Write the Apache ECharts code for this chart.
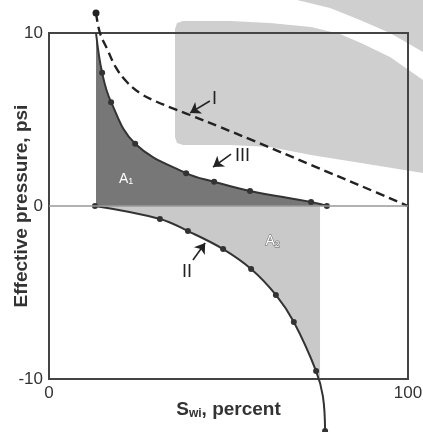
<!DOCTYPE html>
<html>
<head>
<meta charset="utf-8">
<script src="https://cdn.jsdelivr.net/npm/echarts@6/dist/echarts.min.js"></script>
<style>
  html, body { margin: 0; padding: 0; background: #fff; }
  #chart { width: 423px; height: 432px; }
</style>
</head>
<body>
<div id="chart"></div>
<script>
// curve III (solid, upper) - bounds area A1
const curve3X = [13.1, 14.8, 17.3, 24.0, 38.2, 46.0, 56.0, 73.0, 77.4]
const curve3Y = [10, 7.7, 6.0, 3.6, 1.9, 1.4, 0.87, 0.23, 0]

// curve I (dashed)
const curve1X = [13.1, 14.2, 16.2, 18.7, 21.7, 25.3, 29.5, 34.3, 39.3, 47.6, 57.1, 73.0, 86.9, 100]
const curve1Y = [11.16, 10.0, 9.08, 7.98, 7.17, 6.53, 6.07, 5.66, 5.26, 4.57, 3.76, 2.37, 1.16, 0]

// curve II (solid, lower) - bounds area A2
const curve2X = [12.8, 30.9, 38.7, 48.5, 56.3, 63.2, 68.2, 74.4, 76.3, 76.9]
const curve2Y = [0, -0.75, -1.45, -2.49, -3.64, -5.14, -6.71, -9.54, -11.0, -13.0]

// A2 shading stops at this saturation
const a2Edge = 75.5
const a2EdgeY = -10.0

const xTicks = [0, 100]
const yTicks = [-10, 0, 10]

function pairs(xs, ys, noDot) {
  return xs.map((x, i) => {
    const item = { value: [x, ys[i]] }
    if (noDot.includes(i)) item.symbol = 'none'
    return item
  })
}

const a2X = curve2X.filter(x => x <= a2Edge).concat([a2Edge])
const a2Y = curve2Y.slice(0, a2X.length - 1).concat([a2EdgeY])

const chart = echarts.init(document.getElementById('chart'), null, { renderer: 'canvas' })

const font = 'Arial, "Liberation Sans", sans-serif'
const ink = '#333'
const smooth = 0.4

// watermark shapes behind the plot
const wmMain = [[183, 21], [230, 21], [270, 23], [311, 27], [340, 34], [361, 43], [390, 57], [423, 80],
  [423, 173], [361, 163], [311, 155], [270, 147], [230, 145], [183, 145], [177, 143], [175, 137],
  [175, 29], [177, 23]]
const wmTop = [[297, 0], [330, 8], [360, 20], [390, 33], [423, 52], [423, 0]]

const option = {
  animation: false,
  grid: {
    left: 49, right: 15, top: 33, bottom: 53,
    containLabel: false,
    outerBoundsMode: 'none',
    show: true,
    borderColor: '#444',
    borderWidth: 2,
    backgroundColor: 'transparent'
  },
  xAxis: {
    type: 'value',
    min: xTicks[0], max: xTicks[xTicks.length - 1], interval: 100,
    axisLine: { show: false },
    axisTick: { show: false },
    splitLine: { show: false },
    axisLabel: { color: ink, fontSize: 17, fontFamily: font, margin: 6 },
    name: '{s|S}{sub|wi}{s|, percent}',
    nameLocation: 'middle',
    nameGap: 20,
    nameMoveOverlap: false,
    nameTextStyle: {
      rich: {
        s: { fontSize: 19, fontWeight: 'bold', color: ink, fontFamily: font },
        sub: { fontSize: 12, fontWeight: 'bold', color: ink, fontFamily: font, padding: [9, 0, 0, 0] }
      }
    }
  },
  yAxis: {
    type: 'value',
    min: yTicks[0], max: yTicks[yTicks.length - 1], interval: 10,
    axisLine: { show: false },
    axisTick: { show: false },
    splitLine: { show: false },
    axisLabel: { color: ink, fontSize: 17, fontFamily: font, margin: 6 },
    name: 'Effective pressure, psi',
    nameLocation: 'middle',
    nameGap: 18,
    nameMoveOverlap: false,
    nameTextStyle: { fontSize: 19, fontWeight: 'bold', color: ink, fontFamily: font }
  },
  graphic: {
    elements: [
      { type: 'polygon', z: -10, silent: true, shape: { points: wmMain }, style: { fill: '#cfcfcf' } },
      { type: 'polygon', z: -10, silent: true, shape: { points: wmTop }, style: { fill: '#cfcfcf' } },
      { type: 'text', z: 100, left: 119, top: 172, style: { text: '{a|A}{b|1}', fill: '#fff',
        rich: { a: { fontSize: 14, fill: '#fff', fontFamily: font }, b: { fontSize: 9, fill: '#fff', fontFamily: font, padding: [6, 0, 0, 0] } } } },
      { type: 'text', z: 100, left: 265, top: 234, style: { text: '{a|A}{b|2}',
        rich: { a: { fontSize: 14, fill: '#fff', stroke: '#666', lineWidth: 1, fontFamily: font },
                b: { fontSize: 9, fill: '#fff', stroke: '#666', lineWidth: 1, fontFamily: font, padding: [6, 0, 0, 0] } } } },
      { type: 'text', z: 100, left: 212, top: 90, style: { text: 'I', fill: '#222', fontSize: 18, fontFamily: font } },
      { type: 'text', z: 100, left: 235, top: 147, style: { text: 'III', fill: '#222', fontSize: 18, fontFamily: font } },
      { type: 'text', z: 100, left: 182, top: 263, style: { text: 'II', fill: '#222', fontSize: 18, fontFamily: font } }
    ]
  },
  series: [
    {
      name: 'A2',
      type: 'line',
      z: 2,
      data: pairs(a2X, a2Y, a2X.map((_, i) => i)),
      smooth: smooth,
      symbol: 'none',
      lineStyle: { width: 0 },
      areaStyle: { color: '#c9c9c9', opacity: 1 },
      markLine: {
        silent: true,
        symbol: 'none',
        label: { show: false },
        lineStyle: { color: '#999', width: 1.5, type: 'solid' },
        data: [{ yAxis: 0 }]
      }
    },
    {
      name: 'A1',
      type: 'line',
      z: 3,
      data: pairs(curve3X, curve3Y, [0]),
      smooth: smooth,
      symbol: 'circle',
      symbolSize: 6,
      itemStyle: { color: ink },
      lineStyle: { color: ink, width: 2 },
      areaStyle: { color: '#777', opacity: 1 }
    },
    {
      name: 'II',
      type: 'line',
      z: 4,
      clip: false,
      data: pairs(curve2X, curve2Y, [8]),
      smooth: smooth,
      symbol: 'circle',
      symbolSize: 6,
      itemStyle: { color: ink },
      lineStyle: { color: ink, width: 2 }
    },
    {
      name: 'I',
      type: 'line',
      z: 4,
      clip: false,
      data: pairs(curve1X, curve1Y, curve1X.map((_, i) => i).filter(i => i > 0)),
      smooth: smooth,
      symbol: 'circle',
      symbolSize: 7,
      itemStyle: { color: '#222' },
      lineStyle: { color: '#222', width: 2.4, type: [9, 5] },
      markLine: {
        silent: true,
        symbol: ['none', 'arrow'],
        symbolSize: 10,
        label: { show: false },
        lineStyle: { color: '#222', width: 1.6, type: 'solid' },
        data: [
          [{ coord: [44.8, 6.07] }, { coord: [39.3, 5.38] }],
          [{ coord: [50.7, 3.0] }, { coord: [45.7, 2.25] }],
          [{ coord: [40.1, -3.12] }, { coord: [43.5, -2.14] }]
        ]
      }
    }
  ]
}

chart.setOption(option)
</script>
</body>
</html>
